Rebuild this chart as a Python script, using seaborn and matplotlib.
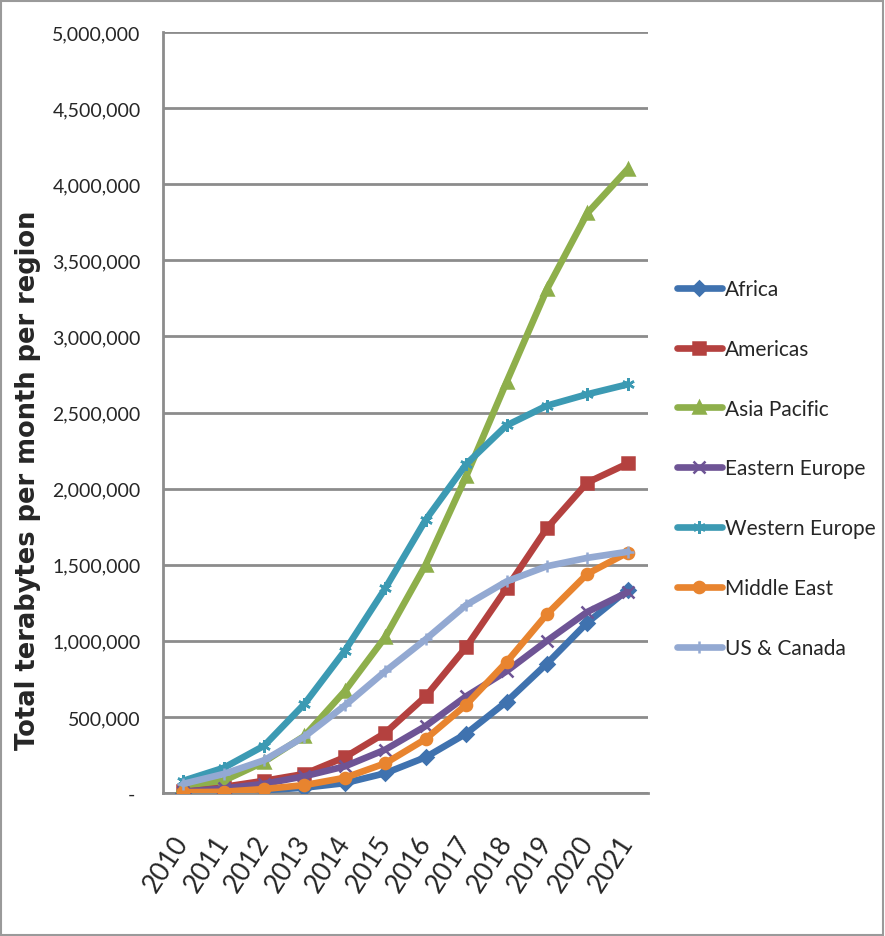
import matplotlib
matplotlib.use("Agg")
import matplotlib.pyplot as plt
from matplotlib.ticker import FuncFormatter, FixedLocator, MultipleLocator, NullFormatter
from matplotlib.patches import Rectangle
import pandas as pd
import seaborn as sns

# ---- data -------------------------------------------------------------
years = ["2010", "2011", "2012", "2013", "2014", "2015",
         "2016", "2017", "2018", "2019", "2020", "2021"]
regions = ["Africa", "Americas", "Asia Pacific", "Eastern Europe",
           "Western Europe", "Middle East", "US & Canada"]

africa = [3000, 8000, 18000, 35000, 65000, 130000, 235000, 390000,
          600000, 850000, 1120000, 1335000]
americas = [12000, 40000, 80000, 125000, 235000, 395000, 635000, 958000,
            1345000, 1740000, 2040000, 2165000]
asia_pacific = [50000, 80000, 205000, 375000, 670000, 1025000, 1500000,
                2080000, 2700000, 3310000, 3810000, 4100000]
eastern_europe = [8000, 30000, 60000, 110000, 175000, 285000, 440000,
                  635000, 800000, 1000000, 1190000, 1320000]
western_europe = [80000, 165000, 310000, 585000, 935000, 1345000, 1795000,
                  2160000, 2415000, 2545000, 2620000, 2685000]
middle_east = [5000, 8000, 26000, 52000, 100000, 195000, 355000, 580000,
               860000, 1175000, 1440000, 1580000]
us_canada = [60000, 125000, 215000, 370000, 575000, 800000, 1010000,
             1235000, 1390000, 1490000, 1545000, 1585000]

series = [africa, americas, asia_pacific, eastern_europe,
          western_europe, middle_east, us_canada]

colors = ["#3F72AF", "#B4413F", "#8EAF4B", "#6E5495",
          "#3C9AB3", "#E8842F", "#93A9D2"]
markers = ["D", "s", "^", "x", (6, 2, 0), "o", "+"]
marker_sizes = [7, 8, 8, 8, 9, 8, 9]

df = pd.DataFrame({
    "year": years * len(regions),
    "idx": list(range(len(years))) * len(regions),
    "region": [r for r in regions for _ in years],
    "value": [v for s in series for v in s],
})

# ---- style ------------------------------------------------------------
sns.set_style("white")
plt.rcParams["font.family"] = ["Lato", "DejaVu Sans"]
grid_grey = "#8C8C8C"

fig = plt.figure(figsize=(8.85, 9.37), dpi=100)
ax = fig.add_axes([163 / 885, 1 - 794 / 937, 485 / 885, 761 / 937])

for region, col, mk, ms in zip(regions, colors, markers, marker_sizes):
    sub = df[df["region"] == region]
    sns.lineplot(data=sub, x="idx", y="value", ax=ax, color=col,
                 linewidth=4.8, marker=mk, markersize=ms,
                 markeredgecolor=col, markerfacecolor=col,
                 markeredgewidth=1.8, label=region,
                 solid_joinstyle="round", solid_capstyle="round",
                 zorder=3)

# ---- axes -------------------------------------------------------------
ax.set_ylim(0, 5000000)
ax.set_xlim(-0.5, len(years) - 0.5)
ax.yaxis.set_major_locator(MultipleLocator(500000))
ax.yaxis.set_major_formatter(
    FuncFormatter(lambda v, _: "- " if v == 0 else f"{v:,.0f}"))
ax.grid(axis="y", color=grid_grey, linewidth=2.0)
ax.grid(axis="x", visible=False)
ax.set_axisbelow(True)

# category boundaries carry the tick marks, centres carry the labels
ax.xaxis.set_major_locator(FixedLocator([i - 0.5 for i in range(len(years) + 1)]))
ax.xaxis.set_major_formatter(NullFormatter())
ax.set_xticks(list(range(len(years))), labels=years, minor=True)
ax.tick_params(axis="x", which="major", direction="out", length=6,
               width=1.6, color=grid_grey)
ax.tick_params(axis="x", which="minor", length=0, pad=32, labelsize=19)
for lbl in ax.get_xticklabels(minor=True):
    lbl.set_rotation(57)
    lbl.set_ha("right")
    lbl.set_va("center")
    lbl.set_rotation_mode("anchor")

ax.tick_params(axis="y", direction="out", length=6, width=1.6,
               color=grid_grey, labelsize=14, pad=10)

for side in ("top", "right"):
    ax.spines[side].set_visible(False)
for side in ("left", "bottom"):
    ax.spines[side].set_color(grid_grey)
    ax.spines[side].set_linewidth(2.0)

ax.set_xlabel("")
ax.set_ylabel("Total terabytes per month per region",
              fontsize=18.5, fontweight="bold", family="DejaVu Sans")
ax.yaxis.set_label_coords((28 - 163) / 485, (794 - 480) / 761)
ax.yaxis.label.set_va("center")

# ---- legend -----------------------------------------------------------
ax.legend(loc="center left", bbox_to_anchor=(677 / 885, 1 - 469.5 / 937),
          bbox_transform=fig.transFigure, frameon=False,
          prop={"family": "Lato", "size": 15},
          handlelength=2.15, handletextpad=0.15, labelspacing=1.91,
          borderpad=0, borderaxespad=0)

# chart-area border
fig.patches.append(Rectangle((0.001, 0.001), 0.997, 0.997,
                             transform=fig.transFigure, fill=False,
                             edgecolor="#9A9A9A", linewidth=1.5))

fig.savefig("out.png", dpi=100, facecolor="white")
